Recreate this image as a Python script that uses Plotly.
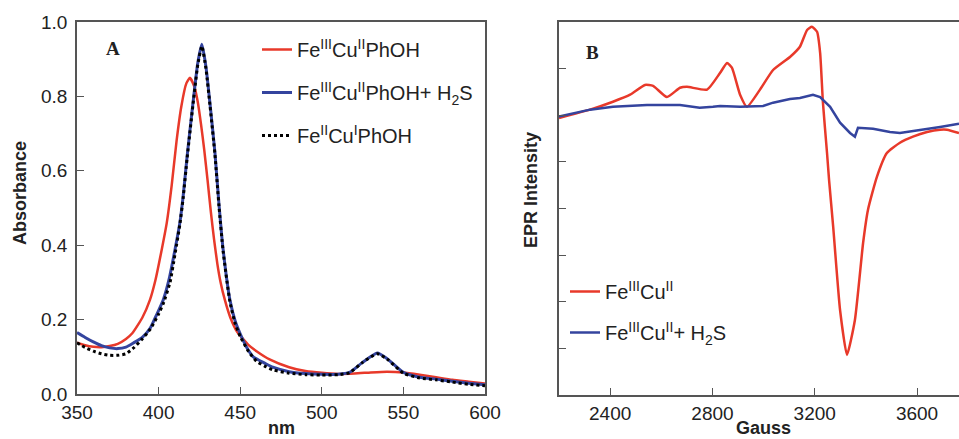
import plotly.graph_objects as go

# ---------------- Panel A: UV-vis absorbance ----------------
nm_red = [350, 355, 360, 365, 370, 375, 380, 384, 390, 394.7, 398, 402, 405, 408, 411, 414, 417,
          419.2, 422, 424, 426, 428, 430, 432, 434, 436, 438, 440.6, 444, 448, 455, 460, 468,
          480, 490, 500, 510, 520, 530, 540, 550, 560, 570, 580, 590, 600]
abs_red = [0.138, 0.131, 0.127, 0.126, 0.129, 0.135, 0.148, 0.164, 0.205, 0.253, 0.305, 0.390,
           0.460, 0.560, 0.680, 0.775, 0.835, 0.850, 0.825, 0.785, 0.725, 0.655, 0.575, 0.490,
           0.415, 0.350, 0.300, 0.253, 0.205, 0.168, 0.132, 0.115, 0.093, 0.072, 0.062, 0.057,
           0.054, 0.055, 0.058, 0.060, 0.058, 0.052, 0.045, 0.038, 0.033, 0.028]

nm_blue = [350, 355, 360, 365, 370, 375, 380, 384.5, 390, 395, 399, 403, 406.5, 410, 413, 415,
           417.5, 421, 424, 426.5, 429, 431.5, 434.5, 437, 439.5, 443.7, 447, 450, 454, 458,
           465, 470, 480, 490, 500, 510, 517, 525, 534, 540, 550, 560, 570, 580, 590, 600]
abs_blue = [0.165, 0.152, 0.140, 0.130, 0.124, 0.122, 0.126, 0.137, 0.152, 0.178, 0.215, 0.255,
            0.310, 0.387, 0.460, 0.530, 0.640, 0.780, 0.890, 0.940, 0.880, 0.780, 0.650, 0.510,
            0.390, 0.253, 0.195, 0.162, 0.125, 0.100, 0.083, 0.072, 0.060, 0.055, 0.053, 0.053,
            0.058, 0.085, 0.110, 0.095, 0.058, 0.045, 0.040, 0.034, 0.029, 0.025]

nm_black = [350, 355, 360, 365, 370, 375, 380, 385, 390, 395, 400, 403, 407, 410, 413, 415,
            417.5, 421, 424, 426.5, 429, 431.5, 434.5, 437, 439.5, 443.7, 447, 450, 455, 460,
            465, 470, 480, 490, 500, 510, 517, 525, 534, 540, 550, 560, 570, 580, 590, 600]
abs_black = [0.138, 0.125, 0.115, 0.108, 0.104, 0.104, 0.108, 0.125, 0.148, 0.175, 0.215, 0.245,
             0.300, 0.375, 0.455, 0.525, 0.635, 0.775, 0.885, 0.935, 0.875, 0.775, 0.645, 0.505,
             0.385, 0.248, 0.188, 0.155, 0.115, 0.088, 0.075, 0.065, 0.056, 0.052, 0.051, 0.052,
             0.057, 0.085, 0.108, 0.094, 0.056, 0.043, 0.038, 0.032, 0.026, 0.022]

# ---------------- Panel B: EPR ----------------
gauss_red = [2200, 2321, 2411, 2478, 2536, 2568, 2622, 2673, 2700, 2779, 2830, 2857, 2876,
             2908, 2935, 2986, 3037, 3103, 3142, 3170, 3189, 3209, 3221, 3232, 3248, 3256,
             3272, 3299, 3326, 3357, 3389, 3408, 3443, 3482, 3533, 3584, 3639, 3690, 3717, 3764]
epr_red = [5.94, 6.12, 6.29, 6.44, 6.65, 6.63, 6.39, 6.59, 6.61, 6.55, 6.91, 7.12, 7.02,
           6.44, 6.18, 6.55, 6.97, 7.25, 7.47, 7.83, 7.90, 7.79, 7.34, 6.27, 5.19, 4.61,
           3.61, 1.82, 0.86, 1.61, 3.26, 3.97, 4.68, 5.19, 5.41, 5.54, 5.64, 5.69, 5.69, 5.62]

gauss_blue = [2200, 2321, 2411, 2544, 2673, 2750, 2802, 2830, 2908, 2998, 3037, 3103, 3142,
              3193, 3221, 3260, 3299, 3338, 3357, 3369, 3428, 3494, 3533, 3623, 3690, 3764]
epr_blue = [5.97, 6.12, 6.18, 6.22, 6.22, 6.16, 6.18, 6.20, 6.18, 6.20, 6.27, 6.35, 6.37,
            6.44, 6.39, 6.18, 5.84, 5.62, 5.54, 5.73, 5.71, 5.64, 5.62, 5.69, 5.75, 5.82]

RED = "#E8392A"
BLUE = "#34449E"
AXC = "#555555"
W, H = 959, 439

fig = go.Figure()
fig.add_trace(go.Scatter(x=nm_red, y=abs_red, mode="lines",
                         line=dict(color=RED, width=2.5, shape="spline", smoothing=0.5),
                         name="Fe<sup>III</sup>Cu<sup>II</sup>PhOH", legendgroup="a1",
                         xaxis="x", yaxis="y", legend="legend"))
fig.add_trace(go.Scatter(x=nm_blue, y=abs_blue, mode="lines",
                         line=dict(color=BLUE, width=3, shape="spline", smoothing=0.5),
                         name="Fe<sup>III</sup>Cu<sup>II</sup>PhOH+ H<sub>2</sub>S", legendgroup="a2",
                         xaxis="x", yaxis="y", legend="legend"))
fig.add_trace(go.Scatter(x=nm_black, y=abs_black, mode="lines",
                         line=dict(color="black", width=3, dash="dot", shape="spline", smoothing=0.5),
                         name="Fe<sup>II</sup>Cu<sup>I</sup>PhOH", legendgroup="a3",
                         xaxis="x", yaxis="y", legend="legend"))
fig.add_trace(go.Scatter(x=gauss_red, y=epr_red, mode="lines",
                         line=dict(color=RED, width=2.5, shape="spline", smoothing=0.5),
                         name="Fe<sup>III</sup>Cu<sup>II</sup>", legendgroup="b1",
                         xaxis="x2", yaxis="y2", legend="legend2"))
fig.add_trace(go.Scatter(x=gauss_blue, y=epr_blue, mode="lines",
                         line=dict(color=BLUE, width=2.5),
                         name="Fe<sup>III</sup>Cu<sup>II</sup>+ H<sub>2</sub>S", legendgroup="b2",
                         xaxis="x2", yaxis="y2", legend="legend2"))

def px(xp):
    return xp / W

def py(yp):
    return 1 - yp / H

axis_common = dict(showline=True, linecolor=AXC, linewidth=1.5, ticks="inside",
                   ticklen=7, tickcolor=AXC, tickwidth=1.2, showgrid=False, zeroline=False,
                   tickfont=dict(family="Arial, Liberation Sans", size=19, color="#222"),
                   automargin=False)

fig.update_layout(
    width=W, height=H, margin=dict(l=0, r=0, t=0, b=0),
    paper_bgcolor="white", plot_bgcolor="white",
    xaxis=dict(domain=[px(77), px(485)], range=[350, 600], tickvals=[350, 400, 450, 500, 550, 600],
               mirror=True, anchor="y", **axis_common),
    yaxis=dict(domain=[py(394), py(22)], range=[0, 1.0], tickvals=[0, 0.2, 0.4, 0.6, 0.8, 1.0],
               tickformat=".1f", mirror=True, anchor="x", ticklabelstandoff=4, **axis_common),
    xaxis2=dict(domain=[px(559), 1.0], range=[2200, 3764], tickvals=[2400, 2800, 3200, 3600],
                mirror=True, anchor="y2", **axis_common),
    yaxis2=dict(domain=[py(395), py(22)], range=[0, 8], tickvals=[1, 2, 3, 4, 5, 6, 7],
                showticklabels=False, anchor="x2", **axis_common),
    legend=dict(x=px(257), y=py(30), xanchor="left", yanchor="top", bgcolor="rgba(0,0,0,0)",
                font=dict(family="Arial, Liberation Sans", size=20, color="#222"),
                tracegroupgap=14, itemwidth=30),
    legend2=dict(x=px(565), y=py(272), xanchor="left", yanchor="top", bgcolor="rgba(0,0,0,0)",
                 font=dict(family="Arial, Liberation Sans", size=20, color="#222"),
                 tracegroupgap=12, itemwidth=30),
    showlegend=True,
)

ann_font = dict(family="Arial, Liberation Sans", size=18, color="#222")
def ann(text, x, y, angle=0, font=ann_font):
    return dict(text=text, x=px(x), y=py(y), xref="paper", yref="paper", xanchor="center",
                yanchor="middle", showarrow=False, textangle=angle, font=font)

serif = dict(family="Liberation Serif, Times New Roman", size=19, color="#222")
annotations = [
    ann("<b>Absorbance</b>", 20, 193, -90),
    ann("<b>nm</b>", 281, 428),
    ann("<b>EPR Intensity</b>", 531, 190, -90),
    ann("<b>Gauss</b>", 763, 428),
    ann("<b>A</b>", 113, 48, font=serif),
    ann("<b>B</b>", 592, 52, font=serif),
]
fig.update_layout(annotations=annotations)

fig.write_html("out.html")
